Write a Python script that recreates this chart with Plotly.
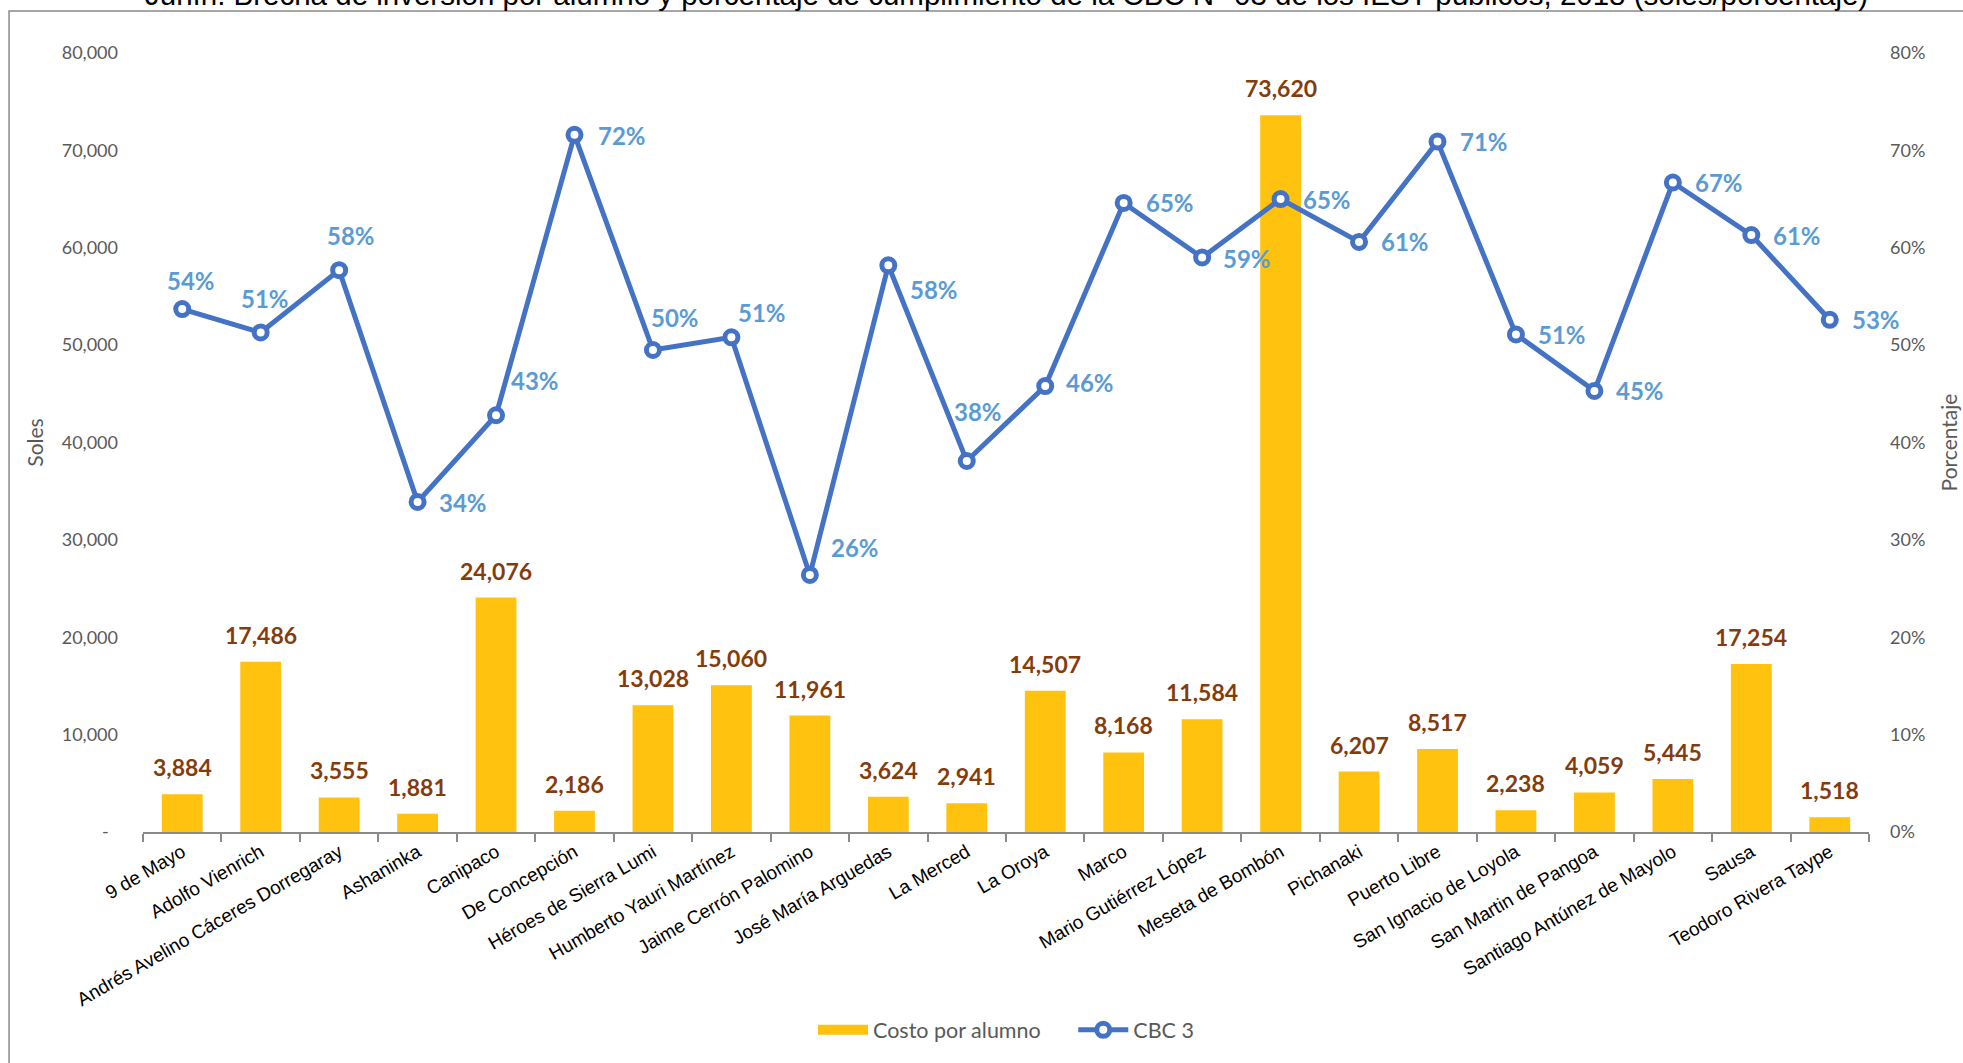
import plotly.graph_objects as go

categories = ["9 de Mayo", "Adolfo Vienrich", "Andrés Avelino Cáceres Dorregaray", "Ashaninka",
              "Canipaco", "De Concepción", "Héroes de Sierra Lumi", "Humberto Yauri Martínez",
              "Jaime Cerrón Palomino", "José María Arguedas", "La Merced", "La Oroya", "Marco",
              "Mario Gutiérrez López", "Meseta de Bombón", "Pichanaki", "Puerto Libre",
              "San Ignacio de Loyola", "San Martin de Pangoa", "Santiago Antúnez de Mayolo",
              "Sausa", "Teodoro Rivera Taype"]
costo = [3884, 17486, 3555, 1881, 24076, 2186, 13028, 15060, 11961, 3624, 2941, 14507,
         8168, 11584, 73620, 6207, 8517, 2238, 4059, 5445, 17254, 1518]
cbc3 = [0.537, 0.513, 0.577, 0.339, 0.428, 0.716, 0.495, 0.508, 0.264, 0.582, 0.381, 0.458,
        0.646, 0.590, 0.650, 0.606, 0.709, 0.511, 0.453, 0.667, 0.613, 0.526]
# label offsets (pixels) for the CBC 3 percentages
lab_dx = [9, 4, 12, 45, 39, 47, 22, 31, 45, 46, 11, 45, 46, 45, 46, 46, 46, 46, 46, 46, 46, 46]
lab_dy = [29, 34, 35, -1, 35, -1, 32, 25, 27, -24, 50, 4, 0, -1, 0, 0, 0, 0, 0, 0, 0, 0]
y1_ticks = [0, 10000, 20000, 30000, 40000, 50000, 60000, 70000, 80000]
y1_text = ["-\u00a0\u00a0", "10,000", "20,000", "30,000", "40,000", "50,000", "60,000", "70,000", "80,000"]

title = ("Junín: Brecha de inversión por alumno y porcentaje de cumplimiento de la CBC N° 03 "
         "de los IEST públicos, 2018 (soles/porcentaje)")

BAR = "#FFC20E"
LINE = "#4472C4"

fig = go.Figure()
fig.add_trace(go.Bar(
    x=categories, y=costo, name="Costo por alumno",
    marker=dict(color=BAR, line=dict(width=0)),
    showlegend=False, yaxis="y", legendgroup="c",
))
fig.add_trace(go.Scatter(
    x=[None], y=[None], name="Costo por alumno" + "\u00a0" * 5, mode="lines",
    line=dict(color=BAR, width=14), legendgroup="c", showlegend=True, yaxis="y",
))
fig.add_trace(go.Scatter(
    x=categories, y=cbc3, name="CBC 3", mode="lines+markers",
    line=dict(color=LINE, width=5),
    marker=dict(symbol="circle", size=13, color="white", line=dict(color=LINE, width=5)),
    cliponaxis=False, yaxis="y2",
))

annotations = [dict(text=title, x=0.5, xref="paper", xanchor="center", y=1, yref="paper",
                    yanchor="middle", yshift=59, showarrow=False,
                    font=dict(family="Liberation Sans", size=29.5, color="black"))]
for c, v in zip(categories, costo):
    annotations.append(dict(x=c, y=v, xref="x", yref="y", text=f"{v:,}", showarrow=False,
                            yanchor="middle", yshift=27,
                            font=dict(family="Lato", size=23, color="#843C0C", weight="bold")))
for c, v, dx, dy in zip(categories, cbc3, lab_dx, lab_dy):
    annotations.append(dict(x=c, y=v, xref="x", yref="y2", text=f"{round(v*100)}%", showarrow=False,
                            xanchor="center", yanchor="middle", xshift=dx, yshift=dy,
                            font=dict(family="Lato", size=24, color="#5B9BD5", weight="bold")))

fig.update_layout(
    width=1963, height=1063,
    paper_bgcolor="white", plot_bgcolor="white",
    margin=dict(l=143, r=94, t=53, b=231, autoexpand=False),
    bargap=0.48,
    annotations=annotations,
    xaxis=dict(range=[-0.5, len(categories) - 0.5], showline=True, linecolor="#898989", linewidth=1.5,
               ticks="outside", tickson="boundaries", ticklen=8, tickcolor="#898989", tickwidth=1.5,
               tickangle=-30, tickfont=dict(family="Liberation Sans", size=19, color="black"),
               showgrid=False, automargin=False),
    yaxis=dict(range=[0, 80000], tickvals=y1_ticks, ticktext=y1_text, showgrid=False,
               zeroline=False, showline=False, ticklabelstandoff=24,
               tickfont=dict(family="Lato", size=18, color="#595959"),
               title=dict(text="Soles", font=dict(family="Lato", size=21, color="#595959"), standoff=12),
               automargin=False),
    yaxis2=dict(range=[0, 0.8], dtick=0.1, tickformat=".0%", overlaying="y", side="right",
                showgrid=False, zeroline=False, showline=False, ticklabelstandoff=20,
                tickfont=dict(family="Lato", size=18, color="#595959"),
                title=dict(text="Porcentaje", font=dict(family="Lato", size=21, color="#595959"), standoff=17),
                automargin=False),
    legend=dict(orientation="h", x=0.5, xanchor="center", y=-0.254, yanchor="middle",
                font=dict(family="Lato", size=21.5, color="#595959"), itemwidth=50,
                traceorder="normal"),
    showlegend=True,
    shapes=[dict(type="rect", xref="paper", yref="paper", x0=-0.0776, x1=1.2, y0=-0.5, y1=1.0539,
                 line=dict(color="#898989", width=1.5), fillcolor="rgba(0,0,0,0)", layer="above")],
)

fig.write_html("out.html", config={"displayModeBar": False},
               post_script="document.body.style.margin='0';")
